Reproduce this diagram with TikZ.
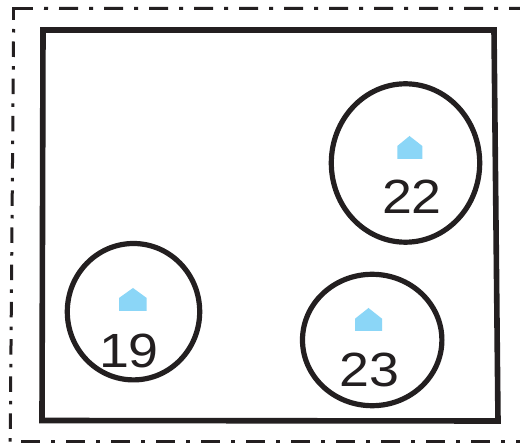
\documentclass[tikz,border=0pt]{standalone}
\usepackage{fontspec}
\setmainfont{Liberation Sans}
\definecolor{ink}{HTML}{231F20}
\definecolor{house}{HTML}{8BD6F7}
\tikzset{
  wall/.style={draw=ink,line width=5.6pt,line join=miter},
  plot/.style={draw=ink,line width=5.2pt},
  roof/.style={fill=house,draw=none},
  num/.style={text=ink,font=\fontsize{48}{48}\selectfont,inner sep=0pt,anchor=center,xscale=1.12},
  bound/.style={draw=ink,line width=3pt},
  hdash/.style={bound,dash pattern=on 4pt off 11pt on 19pt off 11pt},
  vdash/.style={bound,dash pattern=on 3.5pt off 9pt on 15.5pt off 9.2pt}
}
\begin{document}
\begin{tikzpicture}[x=1pt,y=-1pt]
\useasboundingbox (0,0) rectangle (520,443);
\fill[white] (0,0) rectangle (520,443);
% outer dash-dot boundary
\draw[bound] (13.6,20) -- (13.6,8.3) -- (33,8.3);
\draw[hdash] (44,8.3) -- (520,8.5);
\draw[vdash] (13.6,29) -- (10.2,443);
\begin{scope}
\clip (0,0) rectangle (520,443);
\draw[bound] (21,441.6) -- (40,441.6);
\draw[hdash] (51,441.6) -- (520,441.6);
\end{scope}
% inner boundary
\draw[wall] (43,30) -- (494,30) -- (498,421) -- (42,420.5) -- cycle;
% plots
\draw[plot] (133.5,311.7) ellipse [x radius=66.2,y radius=68.2];
\draw[plot] (372.2,340) ellipse [x radius=69.7,y radius=65.7];
\draw[plot] (405.5,163) ellipse [x radius=74.2,y radius=79.2];
% houses
\fill[roof] (119,311) -- (119,298) -- (133,288) -- (146.7,298) -- (146.7,311) -- cycle;
\fill[roof] (355,331) -- (355,318.7) -- (368.5,308) -- (382,318.7) -- (382,331) -- cycle;
\fill[roof] (397.3,159) -- (397.3,146) -- (409.5,136) -- (422.3,146) -- (422.3,159) -- cycle;
% numbers
\node[num] (n19) at (129,351) {19};
\node[num] (n23) at (369.5,369.5) {23};
\node[num] (n22) at (412,196.5) {22};
\end{tikzpicture}
\end{document}
